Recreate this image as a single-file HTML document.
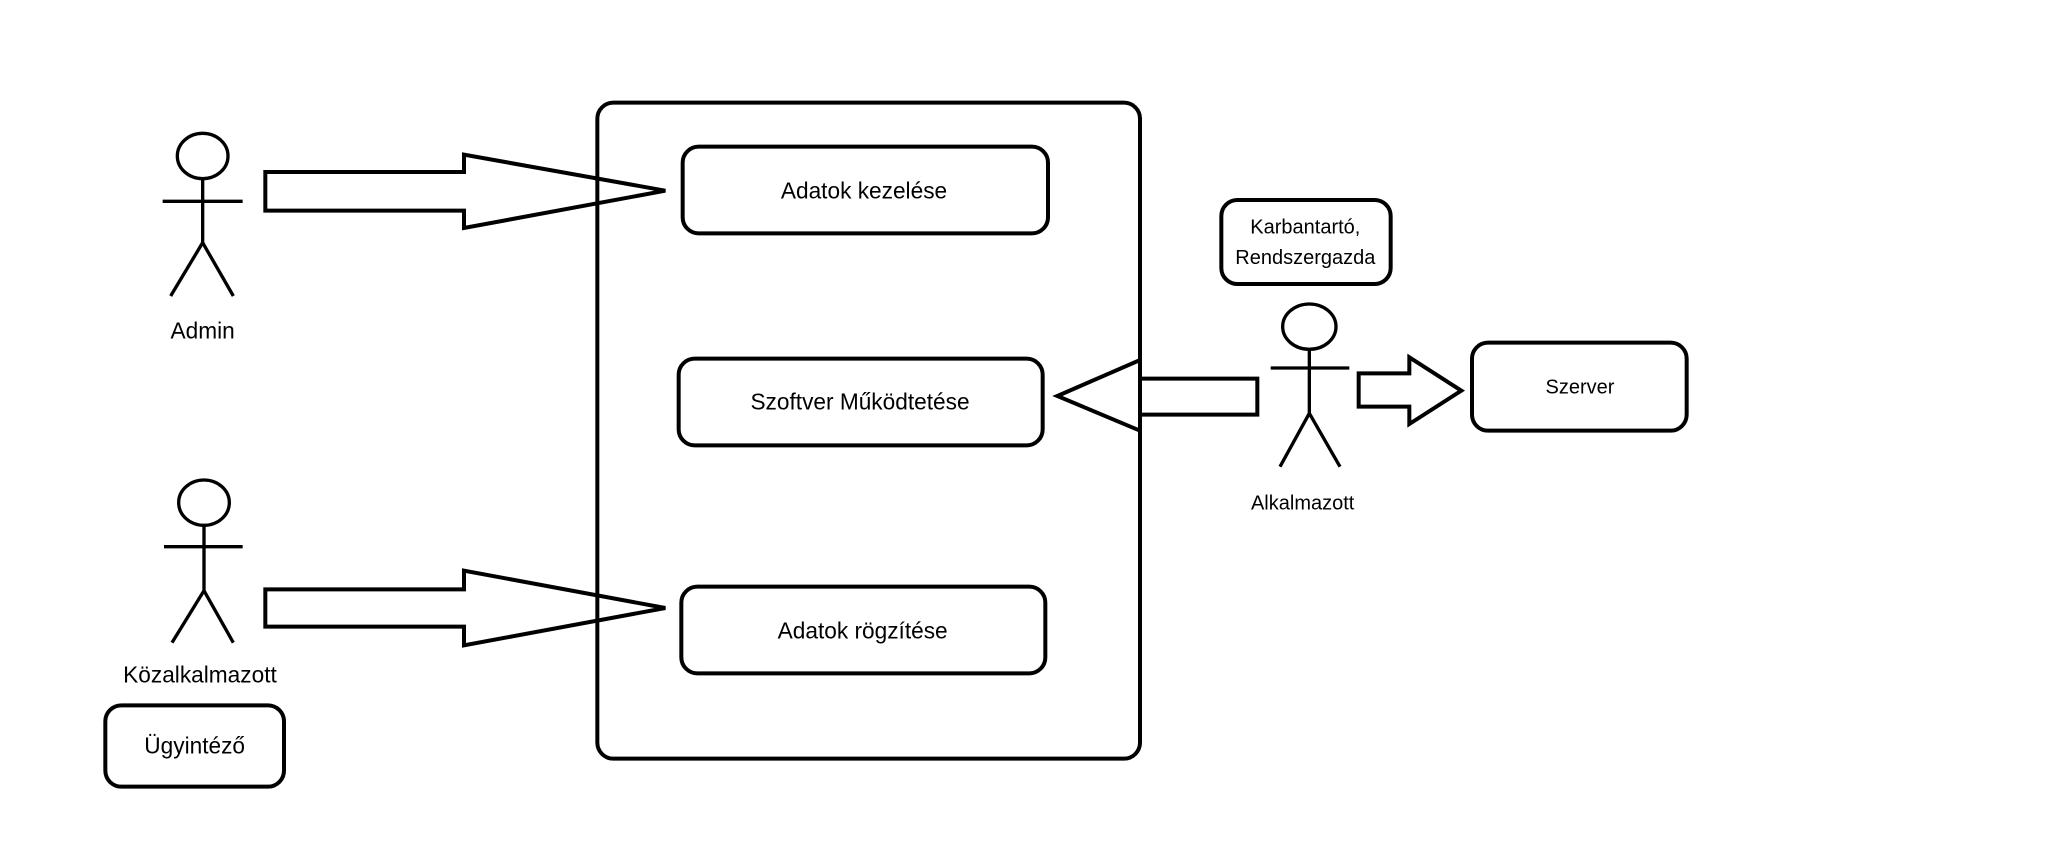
<!DOCTYPE html>
<html><head><meta charset="utf-8"><style>
html,body{margin:0;padding:0;background:#fff;}
svg{display:block;}
text{font-family:"Liberation Sans",sans-serif;fill:#000;}
</style></head><body>
<svg width="2064" height="864" viewBox="0 0 1548 648" xmlns="http://www.w3.org/2000/svg">
<g fill="none" stroke="#000" stroke-width="3">
<rect x="448" y="77" width="407" height="492" rx="12"/>
<rect x="512" y="110" width="274" height="65" rx="12"/>
<rect x="509" y="269" width="273" height="65" rx="12"/>
<rect x="511" y="440" width="273" height="65" rx="12"/>
<rect x="916" y="150" width="127" height="63" rx="12"/>
<rect x="1104" y="257" width="161" height="66" rx="12"/>
<rect x="79" y="529" width="134" height="61" rx="12"/>
</g>
<g fill="none" stroke="#000" stroke-width="2.5">
<ellipse cx="152" cy="117" rx="19" ry="17"/>
<line x1="152" y1="134" x2="152" y2="182"/><line x1="122" y1="151" x2="182" y2="151"/>
<line x1="152" y1="182" x2="128" y2="222"/><line x1="152" y1="182" x2="175" y2="222"/>
<ellipse cx="153" cy="377" rx="19" ry="17"/>
<line x1="153" y1="394" x2="153" y2="443"/><line x1="123" y1="410" x2="182" y2="410"/>
<line x1="153" y1="443" x2="129" y2="482"/><line x1="153" y1="443" x2="175" y2="482"/>
<ellipse cx="982" cy="245" rx="20" ry="17"/>
<line x1="982" y1="262" x2="982" y2="310"/><line x1="953" y1="276" x2="1012" y2="276"/>
<line x1="982" y1="310" x2="960" y2="350"/><line x1="982" y1="310" x2="1005" y2="350"/>
</g>
<g fill="none" stroke="#000" stroke-width="3" stroke-linejoin="miter">
<polygon points="199,129 348,129 348,116 499,143 348,171 348,158 199,158"/>
<polygon points="199,442 348,442 348,428 499,456 348,484 348,470 199,470"/>
<polygon points="943,284 855,284 855,270 793,297 855,323 855,311 943,311"/>
<polygon points="1019,280 1057,280 1057,268 1096,293 1057,318 1057,305 1019,305"/>
</g>
<g font-size="17" text-anchor="middle">
<text x="648" y="149">Adatok kezelése</text>
<text x="645" y="307">Szoftver Működtetése</text>
<text x="647" y="479">Adatok rögzítése</text>
<text x="152" y="254">Admin</text>
<text x="150" y="512">Közalkalmazott</text>
<text x="146" y="565">Ügyintéző</text>
</g>
<g font-size="15" text-anchor="middle">
<text x="979" y="175">Karbantartó,</text>
<text x="979" y="198">Rendszergazda</text>
<text x="1185" y="295">Szerver</text>
<text x="977" y="382">Alkalmazott</text>
</g>
</svg>
</body></html>
